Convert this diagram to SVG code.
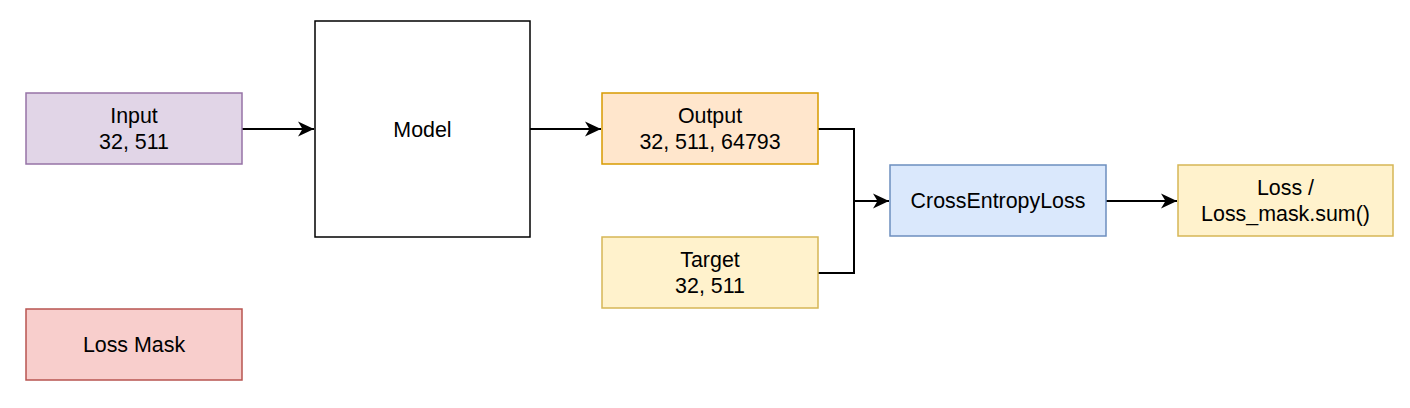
<svg xmlns="http://www.w3.org/2000/svg" width="1410" height="408" viewBox="0 0 1410 408">
<style>
  text { font-family: "Liberation Sans", Arial, sans-serif; font-size: 21.4px; fill: #000; text-anchor: middle; }
  .box { stroke-width: 1.5; }
  .edge { fill: none; stroke: #000; stroke-width: 2; }
</style>
<defs>
  <marker id="arrow" markerUnits="userSpaceOnUse" markerWidth="17" markerHeight="16" refX="16" refY="8" orient="auto">
    <path d="M0,0.5 L16,8 L0,15.5 L4.5,8 Z" fill="#000"/>
  </marker>
</defs>
<rect width="1410" height="408" fill="#fff"/>
<g id="connectors">
  <path class="edge" d="M242,129 H314" marker-end="url(#arrow)"/>
  <path class="edge" d="M530,129 H601" marker-end="url(#arrow)"/>
  <path class="edge" d="M818,129 H854 V201 H889" marker-end="url(#arrow)"/>
  <path class="edge" d="M818,273 H854 V201"/>
  <path class="edge" d="M1106,201 H1177" marker-end="url(#arrow)"/>
</g>
<g id="input">
  <rect class="box" x="26" y="93" width="216" height="71" fill="#e1d5e7" stroke="#9673a6"/>
  <text x="134" y="123">Input</text>
  <text x="134" y="148.5">32, 511</text>
</g>
<g id="model">
  <rect class="box" x="315" y="21" width="215" height="216" fill="#fff" stroke="#000"/>
  <text x="422.5" y="136.5">Model</text>
</g>
<g id="output">
  <rect class="box" x="602" y="93" width="216" height="71" fill="#ffe6cc" stroke="#d79b00"/>
  <text x="710" y="123">Output</text>
  <text x="710" y="148.5">32, 511, 64793</text>
</g>
<g id="target">
  <rect class="box" x="602" y="237" width="216" height="71" fill="#fff2cc" stroke="#d6b656"/>
  <text x="710" y="267">Target</text>
  <text x="710" y="292.5">32, 511</text>
</g>
<g id="crossentropy">
  <rect class="box" x="890" y="165" width="216" height="71" fill="#dae8fc" stroke="#6c8ebf"/>
  <text x="998" y="208">CrossEntropyLoss</text>
</g>
<g id="loss">
  <rect class="box" x="1178" y="165" width="215" height="71" fill="#fff2cc" stroke="#d6b656"/>
  <text x="1285.5" y="195">Loss /</text>
  <text x="1285.5" y="220.5">Loss_mask.sum()</text>
</g>
<g id="lossmask">
  <rect class="box" x="26" y="309" width="216" height="71" fill="#f8cecc" stroke="#b85450"/>
  <text x="134" y="352">Loss Mask</text>
</g>
</svg>
